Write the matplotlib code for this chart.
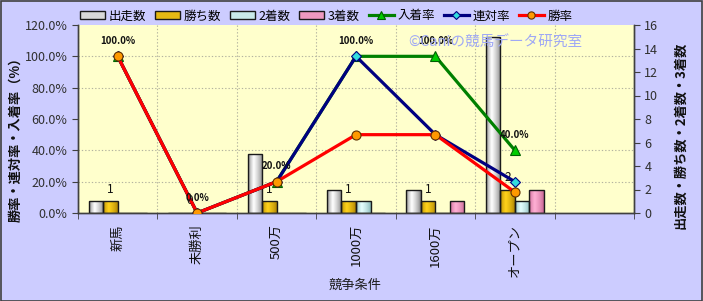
import numpy as np
import matplotlib
matplotlib.use("Agg")
import matplotlib.pyplot as plt
from matplotlib.colors import to_rgb
from matplotlib.patches import Patch, Rectangle
from matplotlib.lines import Line2D
from matplotlib.ticker import FuncFormatter

plt.rcParams['font.family'] = ['Noto Sans CJK JP', 'DejaVu Sans']

categories = ["新馬", "未勝利", "500万", "1000万", "1600万", "オープン"]
starts = [1, 0, 5, 2, 2, 15]      # 出走数
wins = [1, 0, 1, 1, 1, 2]         # 勝ち数
seconds = [0, 0, 0, 1, 0, 1]      # 2着数
thirds = [0, 0, 0, 0, 1, 2]       # 3着数
place_rate = [100.0, 0.0, 20.0, 100.0, 100.0, 40.0]   # 入着率
quinella_rate = [100.0, 0.0, 20.0, 100.0, 50.0, 20.0] # 連対率
win_rate = [100.0, 0.0, 20.0, 50.0, 50.0, 13.3]       # 勝率

W, H = 703, 301
fig = plt.figure(figsize=(W / 100, H / 100), dpi=100)
fig.patch.set_facecolor('#CCCCFF')
fig.patches.append(Rectangle((0.5 / W, 0.5 / H), 1 - 1.5 / W, 1 - 1.5 / H, transform=fig.transFigure,
                             fill=False, edgecolor='#404040', linewidth=1.2))

L, R, T, B = 78, 634, 25, 213
ax = fig.add_axes([L / W, 1 - B / H, (R - L) / W, (B - T) / H])
ax.set_facecolor('#FFFFCC')
axl = ax.twinx()
axl.patch.set_visible(False)

n_slots = 7
x = np.arange(len(categories))
bw = 0.183
series = [
    ("出走数", starts, '#6E6E6E', '#FFFFFF'),
    ("勝ち数", wins, '#A07800', '#FFD21A'),
    ("2着数", seconds, '#7AAFAF', '#E6FFFF'),
    ("3着数", thirds, '#C05A8A', '#FFB0D4'),
]


def gradient(dark, light, n=64):
    d = np.array(to_rgb(dark))
    l = np.array(to_rgb(light))
    t = np.linspace(0, 1, n)
    peak = 0.38
    prof = np.where(t < peak, t / peak, 1 - (t - peak) / (1 - peak))
    prof = prof ** 0.6
    cols = d[None, :] * (1 - prof[:, None]) + l[None, :] * prof[:, None]
    return cols[None, :, :]


ax.set_xlim(-0.5, n_slots - 0.5)
ax.set_ylim(0, 16)
legend_handles = []
for i, (name, vals, dark, light) in enumerate(series):
    offs = (i - 1.5) * bw
    bars = ax.bar(x + offs, vals, width=bw, color='none', edgecolor='#1a1a1a', linewidth=1.0, zorder=3)
    img = gradient(dark, light)
    for rect, v in zip(bars, vals):
        if v <= 0:
            continue
        x0, y0 = rect.get_x(), rect.get_y()
        im = ax.imshow(img, extent=[x0, x0 + rect.get_width(), y0, y0 + rect.get_height()],
                       aspect='auto', zorder=2.5, interpolation='bilinear')
        im.set_clip_path(rect)
    mid = gradient(dark, light)[0, 40]
    legend_handles.append(Patch(facecolor=mid, edgecolor='#1a1a1a', label=name))
    if name == "勝ち数":
        for xi, v in zip(x + offs, vals):
            ax.annotate(f"{v}", (xi, v), xytext=(0, 4), textcoords='offset points',
                        ha='center', va='bottom', fontsize=8.5, color='#111111', zorder=6)
ax.set_xlim(-0.5, n_slots - 0.5)
ax.set_ylim(0, 16)

axl.set_ylim(0, 120)
lines = [
    ("入着率", place_rate, '#008000', '^', '#00CC00', '#006000', 7.5),
    ("連対率", quinella_rate, '#000080', 'D', '#33DDDD', '#000080', 5),
    ("勝率", win_rate, '#FF0000', 'o', '#FF9900', '#603000', 6.5),
]
for name, vals, col, mk, mfc, mec, ms in lines:
    axl.plot(x, vals, color=col, linewidth=2.3, marker=mk, markerfacecolor=mfc,
             markeredgecolor=mec, markersize=ms, markeredgewidth=0.8, zorder=4)
    legend_handles.append(Line2D([0], [0], color=col, linewidth=2.3, marker=mk, markerfacecolor=mfc,
                                 markeredgecolor=mec, markersize=ms * 0.8, markeredgewidth=0.8, label=name))
for xi, v in zip(x, place_rate):
    axl.annotate(f"{v:.1f}%", (xi, v), xytext=(0, 7.5), textcoords='offset points',
                 ha='center', va='bottom', fontsize=7, fontweight='bold', color='#111111', zorder=6)

# axes sides
ax.yaxis.tick_right()
ax.yaxis.set_label_position('right')
axl.yaxis.tick_left()
axl.yaxis.set_label_position('left')

ax.set_yticks(np.arange(0, 17, 2))
axl.set_yticks(np.arange(0, 121, 20))
axl.yaxis.set_major_formatter(FuncFormatter(lambda v, p: f"{v:.1f}%"))

ax.set_xticks(x)
ax.set_xticklabels(categories, rotation=90, fontsize=9.5)
ax.set_xticks(np.arange(-0.5, n_slots, 1.0), minor=True)
ax.set_yticks(np.linspace(0, 16, 7), minor=True)
ax.grid(which='minor', axis='both', color='#B4B4A0', linestyle=(0, (1.2, 1.8)), linewidth=0.8, zorder=0)
ax.set_axisbelow(True)
ax.tick_params(axis='x', which='major', length=0, pad=8, labelcolor='#111111')
ax.tick_params(axis='x', which='minor', length=4, color='#404040', direction='out')
ax.tick_params(axis='y', which='minor', length=0)
ax.tick_params(axis='y', which='major', labelsize=9, length=4, color='#404040', labelcolor='#303030')
axl.tick_params(axis='y', labelsize=9, length=4, color='#404040', labelcolor='#303030')

for a in (ax, axl):
    a.spines['top'].set_visible(False)
    for s in ('left', 'right', 'bottom'):
        a.spines[s].set_color('#404040')
        a.spines[s].set_linewidth(1.0)

fig.text(15 / W, 1 - 136 / H, "勝率・連対率・入着率（%）", rotation=90, ha='center', va='center',
         fontsize=9.5, fontweight='bold', color='#111111')
fig.text(680 / W, 1 - 135 / H, "出走数・勝ち数・2着数・3着数", rotation=90, ha='center', va='center',
         fontsize=9.5, fontweight='bold', color='#111111')
fig.text(355 / W, 1 - 285 / H, "競争条件", ha='center', va='center', fontsize=9.5, color='#202020')

fig.text(495 / W, 1 - 43 / H, "©Caniの競馬データ研究室", ha='center', va='center', fontsize=10.5,
         color='#9FA8F5', zorder=10)

fig.legend(handles=legend_handles, loc='center', bbox_to_anchor=(326 / W, 1 - 16 / H), ncol=7,
           frameon=False, fontsize=9, handlelength=2.0, handleheight=0.6, handletextpad=0.3,
           columnspacing=0.7, borderpad=0)

fig.savefig("out.png", dpi=100, facecolor=fig.get_facecolor())
